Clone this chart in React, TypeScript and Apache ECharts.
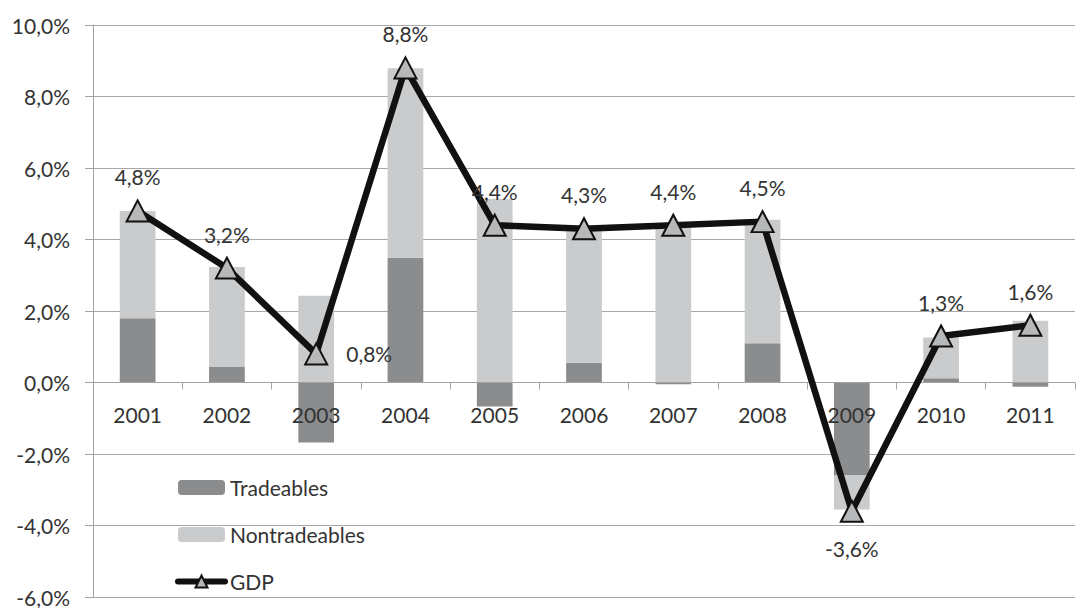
import React, { useEffect, useRef } from "react";
import * as echarts from "echarts";

const categories = ["2001", "2002", "2003", "2004", "2005", "2006", "2007", "2008", "2009", "2010", "2011"];
const tradeables = [1.8, 0.45, -1.68, 3.49, -0.67, 0.55, -0.05, 1.1, -2.6, 0.12, -0.12];
const nontradeables = [3.0, 2.78, 2.43, 5.3, 5.14, 3.68, 4.4, 3.45, -0.95, 1.14, 1.73];
const gdp = [4.8, 3.2, 0.8, 8.8, 4.4, 4.3, 4.4, 4.5, -3.6, 1.3, 1.6];
const yMin = -6;
const yMax = 10;

const FONT = "Lato, 'Open Sans', sans-serif";
const FS = 21;
const TXT = "#333";
const fmt = (v: number) => v.toFixed(1).replace(".", ",") + "%";

const GRID_TOP = 25;
const GRID_BOTTOM = 11;
const CHART_H = 608;

export default function App() {
  const ref = useRef<HTMLDivElement>(null);
  useEffect(() => {
    if (!ref.current) return;
    const chart = echarts.init(ref.current, undefined, { renderer: "svg" });
    const plotH = CHART_H - GRID_TOP - GRID_BOTTOM;
    const zeroOffset = -(plotH * (0 - yMin)) / (yMax - yMin);
    chart.setOption({
      animation: false,
      textStyle: { fontFamily: FONT },
      grid: { left: 93, right: 11, top: GRID_TOP, bottom: GRID_BOTTOM, containLabel: false, outerBoundsMode: "none" },
      legend: {
        orient: "vertical",
        left: 170,
        top: 472,
        itemWidth: 47,
        itemHeight: 15,
        itemGap: 26,
        textStyle: { fontSize: FS, color: TXT, fontFamily: FONT, padding: [0, 0, 0, 0] },
        data: [
          { name: "Tradeables" },
          { name: "Nontradeables" },
          { name: "GDP", lineStyle: { width: 6, cap: "round", color: "#111" } },
        ],
      },
      xAxis: {
        type: "category",
        data: categories,
        position: "bottom",
        offset: zeroOffset,
        z: 3,
        axisLine: { onZero: false, lineStyle: { color: "#a3a3a3", width: 1 } },
        axisTick: { show: true, length: 7, lineStyle: { color: "#a3a3a3" } },
        axisLabel: { fontSize: FS, color: TXT, margin: 21, fontFamily: FONT },
        splitLine: { show: false },
      },
      yAxis: {
        type: "value",
        min: yMin,
        max: yMax,
        interval: 2,
        axisLine: { show: true, onZero: false, lineStyle: { color: "#a3a3a3" } },
        axisTick: { show: true, length: 8, lineStyle: { color: "#a3a3a3" } },
        axisLabel: { fontSize: FS, color: TXT, margin: 23, formatter: fmt, fontFamily: FONT },
        splitLine: { lineStyle: { color: "#a8a8a8", width: 1 } },
      },
      series: [
        {
          name: "Tradeables",
          type: "bar",
          stack: "total",
          barWidth: "40%",
          itemStyle: { color: "#8b8c8e" },
          data: tradeables,
        },
        {
          name: "Nontradeables",
          type: "bar",
          stack: "total",
          barWidth: "40%",
          itemStyle: { color: "#cacbcc" },
          data: nontradeables,
        },
        {
          name: "GDP",
          type: "line",
          z: 10,
          symbol: "triangle",
          symbolSize: [22, 21],
          lineStyle: { color: "#111", width: 6.5 },
          itemStyle: { color: "#b7b8ba", borderColor: "#111", borderWidth: 2 },
          label: {
            show: true,
            position: "top",
            distance: 12,
            fontSize: FS,
            color: TXT,
            fontFamily: FONT,
            formatter: (p: any) => fmt(p.value),
          },
          data: gdp.map((v, i) => {
            if (i === 2) return { value: v, label: { position: "right", distance: 18 } };
            if (i === 8) return { value: v, label: { position: "bottom", distance: 15 } };
            return v;
          }),
        },
      ],
    });
    return () => chart.dispose();
  }, []);
  return <div ref={ref} style={{ width: 1086, height: 608, position: "absolute", left: 0, top: 0, background: "#fff" }} />;
}
